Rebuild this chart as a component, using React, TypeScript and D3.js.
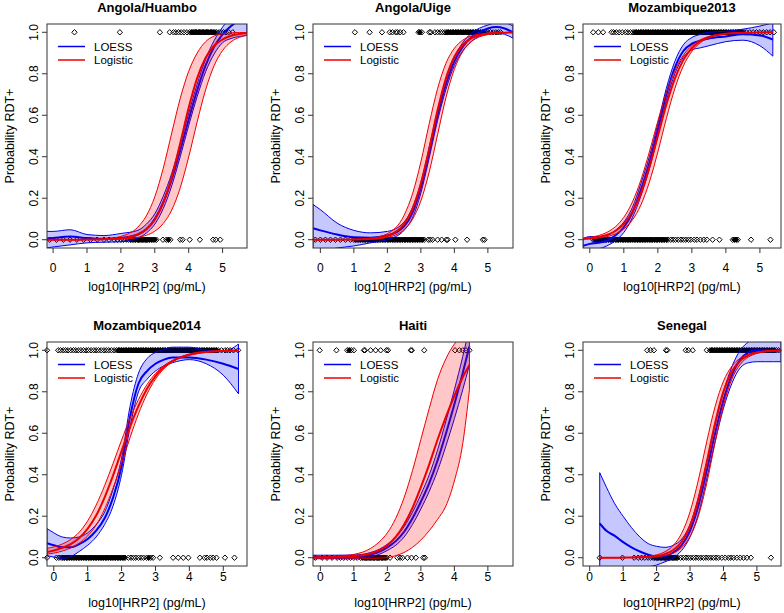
import React from 'react';
import * as d3 from 'd3';

const W = 784;
const H = 613;
const FONT = '"Liberation Sans", Arial, Helvetica, sans-serif';
const Y_DOMAIN = [-0.04, 1.04];
const xTicks = [0, 1, 2, 3, 4, 5];
const yTicks = [0, 0.2, 0.4, 0.6, 0.8, 1.0];
const titles = ['Angola/Huambo', 'Angola/Uige', 'Mozambique2013', 'Mozambique2014', 'Haiti', 'Senegal'];

// ---- Angola/Huambo ----
const huamboDomain = [-0.18, 5.72];
const huamboX = [-0.2, 0, 0.5, 1, 1.5, 2, 2.5, 2.75, 3, 3.25, 3.5, 3.75, 4, 4.25, 4.5, 4.75, 5, 5.25, 5.5, 5.72];
const huamboLogit = [0, 0, 0.0001, 0.0004, 0.0016, 0.0064, 0.026, 0.05, 0.096, 0.177, 0.301, 0.465, 0.636, 0.779, 0.877, 0.935, 0.966, 0.983, 0.992, 0.995];
const huamboLogitHi = [0.0001, 0.0001, 0.0002, 0.001, 0.004, 0.016, 0.061, 0.115, 0.207, 0.345, 0.515, 0.681, 0.812, 0.9, 0.955, 0.982, 0.993, 0.997, 0.999, 0.999];
const huamboLogitLo = [0, 0, 0, 0.0001, 0.0007, 0.0027, 0.0106, 0.021, 0.041, 0.078, 0.143, 0.25, 0.399, 0.568, 0.723, 0.839, 0.912, 0.954, 0.976, 0.986];
const huamboLoess = [0.005, 0.008, 0.015, 0.008, 0.004, 0.008, 0.025, 0.05, 0.1, 0.18, 0.29, 0.43, 0.58, 0.72, 0.84, 0.93, 0.99, 1.03, 1.06, 1.08];
const huamboLoessLo = [-0.04, -0.035, -0.025, -0.015, -0.012, -0.01, 0.008, 0.032, 0.075, 0.15, 0.26, 0.4, 0.55, 0.69, 0.81, 0.895, 0.95, 0.97, 0.98, 0.985];
const huamboLoessHi = [0.04, 0.04, 0.048, 0.025, 0.02, 0.03, 0.045, 0.075, 0.125, 0.21, 0.32, 0.46, 0.61, 0.75, 0.87, 0.96, 1.025, 1.075, 1.12, 1.16];
const huamboPos = [0.63, 1.97, 3.15, 3.44, 3.55, 3.62, 3.7, 3.78, 3.86, 3.95, 4.03, 4.08, 4.12, 4.16, 4.2, 4.24, 4.28, 4.32, 4.36, 4.4, 4.44, 4.48, 4.52, 4.56, 4.6, 4.64, 4.68, 4.72, 4.77, 4.83, 4.9, 4.96, 5.03, 5.1, 5.18, 5.3];
const huamboNeg = [-0.1, 0.1, 0.3, 0.5, 0.7, 0.9, 1.1, 1.3, 1.5, 1.65, 1.8, 1.9, 2.0, 2.08, 2.15, 2.22, 2.28, 2.33, 2.38, 2.43, 2.48, 2.52, 2.56, 2.6, 2.64, 2.68, 2.72, 2.76, 2.8, 2.85, 2.9, 2.95, 3.0, 3.05, 3.24, 3.34, 3.4, 3.46, 3.75, 3.82, 4.03, 4.33, 4.72, 4.8, 4.93];

// ---- Angola/Uige ----
const uigeDomain = [-0.22, 5.75];
const uigeX = [-0.22, 0, 0.5, 1, 1.5, 2, 2.5, 2.75, 3, 3.25, 3.5, 3.75, 4, 4.25, 4.5, 4.75, 5, 5.25, 5.5, 5.75];
const uigeLogit = [0, 0, 0.0002, 0.0009, 0.0041, 0.018, 0.077, 0.149, 0.271, 0.44, 0.625, 0.779, 0.882, 0.94, 0.971, 0.986, 0.993, 0.997, 0.998, 0.999];
const uigeLogitHi = [0, 0.0001, 0.0003, 0.0015, 0.0066, 0.029, 0.118, 0.221, 0.375, 0.56, 0.729, 0.851, 0.923, 0.962, 0.982, 0.991, 0.996, 0.998, 0.999, 1.0];
const uigeLogitLo = [0, 0, 0.0001, 0.0006, 0.0026, 0.0113, 0.049, 0.098, 0.187, 0.327, 0.507, 0.686, 0.822, 0.907, 0.954, 0.978, 0.989, 0.995, 0.997, 0.999];
const uigeLoess = [0.055, 0.045, 0.025, 0.012, 0.01, 0.02, 0.065, 0.13, 0.25, 0.42, 0.6, 0.75, 0.86, 0.93, 0.975, 1.0, 1.018, 1.025, 1.018, 1.0];
const uigeLoessLo = [-0.06, -0.055, -0.04, -0.03, -0.015, 0.0, 0.045, 0.105, 0.225, 0.395, 0.575, 0.725, 0.84, 0.91, 0.955, 0.982, 0.995, 0.997, 0.99, 0.972];
const uigeLoessHi = [0.17, 0.145, 0.08, 0.045, 0.033, 0.04, 0.085, 0.155, 0.275, 0.445, 0.625, 0.775, 0.88, 0.95, 0.995, 1.02, 1.035, 1.045, 1.045, 1.03];
const uigePos = [1.03, 1.47, 1.84, 2.07, 2.15, 2.25, 2.3, 2.38, 2.48, 2.93, 2.97, 3.03, 3.25, 3.3, 3.42, 3.5, 3.58, 3.65, 3.72, 3.78, 3.83, 3.88, 3.93, 3.98, 4.03, 4.08, 4.13, 4.18, 4.23, 4.28, 4.33, 4.38, 4.43, 4.48, 4.53, 4.58, 4.63, 4.68, 4.73, 4.78, 4.83, 4.88, 4.93, 5.0, 5.08, 5.16, 5.24, 5.31, 5.38];
const uigeNeg = [-0.15, 0.0, 0.15, 0.3, 0.45, 0.6, 0.75, 0.9, 1.0, 1.05, 1.1, 1.15, 1.2, 1.25, 1.3, 1.35, 1.4, 1.45, 1.5, 1.55, 1.6, 1.65, 1.7, 1.75, 1.8, 1.85, 1.9, 1.95, 2.0, 2.05, 2.1, 2.15, 2.2, 2.25, 2.3, 2.35, 2.4, 2.45, 2.5, 2.55, 2.6, 2.65, 2.7, 2.75, 2.8, 2.85, 2.9, 2.95, 3.0, 3.05, 3.1, 3.22, 3.28, 3.35, 3.5, 3.62, 3.76, 3.8, 4.03, 4.38, 4.85, 4.9];

// ---- Mozambique2013 ----
const moz13Domain = [-0.2, 5.62];
const moz13X = [-0.2, 0, 0.25, 0.5, 0.75, 1, 1.25, 1.5, 1.75, 2, 2.25, 2.5, 2.75, 3, 3.25, 3.5, 4, 4.5, 5, 5.38];
const moz13Logit = [0.0041, 0.0067, 0.0124, 0.023, 0.042, 0.076, 0.133, 0.223, 0.349, 0.5, 0.651, 0.777, 0.867, 0.924, 0.958, 0.977, 0.993, 0.998, 0.9994, 0.9998];
const moz13LogitHi = [0.0068, 0.0109, 0.0196, 0.0352, 0.0624, 0.108, 0.181, 0.287, 0.423, 0.572, 0.709, 0.816, 0.89, 0.936, 0.964, 0.98, 0.994, 0.998, 0.9994, 0.9998];
const moz13LogitLo = [0.0024, 0.004, 0.0077, 0.0146, 0.0276, 0.0517, 0.0944, 0.167, 0.277, 0.423, 0.584, 0.729, 0.838, 0.908, 0.95, 0.973, 0.9926, 0.998, 0.9994, 0.9998];
const moz13Loess = [-0.03, -0.02, -0.015, -0.005, 0.02, 0.06, 0.13, 0.24, 0.37, 0.53, 0.7, 0.83, 0.91, 0.945, 0.96, 0.97, 0.98, 0.99, 0.985, 0.965];
const moz13LoessLo = [-0.065, -0.055, -0.045, -0.03, -0.005, 0.035, 0.105, 0.21, 0.34, 0.5, 0.67, 0.8, 0.88, 0.915, 0.925, 0.935, 0.955, 0.962, 0.935, 0.885];
const moz13LoessHi = [0.005, 0.015, 0.015, 0.02, 0.045, 0.085, 0.155, 0.27, 0.4, 0.56, 0.73, 0.86, 0.94, 0.975, 0.99, 1.0, 1.005, 1.015, 1.03, 1.045];
const moz13Pos = [0.1, 0.25, 0.39, 0.64, 0.7, 0.78, 0.86, 0.95, 1.05, 1.12, 1.2, 1.27, 1.33, 1.38, 1.43, 1.48, 1.53, 1.58, 1.63, 1.68, 1.73, 1.78, 1.83, 1.88, 1.93, 1.98, 2.03, 2.08, 2.13, 2.18, 2.23, 2.28, 2.33, 2.38, 2.43, 2.48, 2.53, 2.58, 2.63, 2.68, 2.73, 2.78, 2.83, 2.88, 2.93, 2.98, 3.03, 3.08, 3.13, 3.18, 3.23, 3.28, 3.33, 3.38, 3.43, 3.48, 3.53, 3.58, 3.63, 3.68, 3.73, 3.78, 3.83, 3.88, 3.93, 3.98, 4.03, 4.08, 4.13, 4.18, 4.23, 4.28, 4.33, 4.38, 4.43, 4.48, 4.53, 4.6, 4.7, 4.8, 4.9, 5.0, 5.1, 5.2, 5.3, 5.41];
const moz13Neg = [0.1, 0.15, 0.2, 0.25, 0.3, 0.35, 0.4, 0.45, 0.5, 0.55, 0.6, 0.65, 0.7, 0.75, 0.8, 0.85, 0.9, 0.95, 1.0, 1.05, 1.1, 1.15, 1.2, 1.25, 1.3, 1.35, 1.4, 1.45, 1.5, 1.55, 1.6, 1.65, 1.7, 1.75, 1.8, 1.85, 1.9, 1.95, 2.0, 2.05, 2.1, 2.15, 2.2, 2.25, 2.3, 2.38, 2.45, 2.52, 2.6, 2.68, 2.75, 2.82, 2.9, 2.97, 3.07, 3.15, 3.25, 3.35, 3.44, 3.61, 3.81, 4.2, 4.25, 4.3, 4.35, 4.74, 5.31];

// ---- Mozambique2014 ----
const moz14Domain = [-0.2, 5.7];
const moz14X = [-0.2, 0, 0.25, 0.5, 0.75, 1, 1.25, 1.5, 1.75, 2, 2.25, 2.5, 2.75, 3, 3.25, 3.5, 4, 4.5, 5, 5.45];
const moz14Logit = [0.028, 0.035, 0.048, 0.066, 0.095, 0.14, 0.203, 0.291, 0.397, 0.514, 0.63, 0.732, 0.815, 0.876, 0.919, 0.948, 0.979, 0.992, 0.997, 0.9987];
const moz14LogitHi = [0.045, 0.052, 0.066, 0.088, 0.123, 0.178, 0.254, 0.348, 0.455, 0.567, 0.673, 0.763, 0.835, 0.888, 0.926, 0.951, 0.982, 0.994, 0.998, 0.999];
const moz14LogitLo = [0.017, 0.022, 0.032, 0.047, 0.07, 0.105, 0.157, 0.235, 0.336, 0.455, 0.579, 0.694, 0.789, 0.861, 0.911, 0.944, 0.975, 0.99, 0.996, 0.998];
const moz14Loess = [0.07, 0.06, 0.05, 0.05, 0.065, 0.09, 0.13, 0.19, 0.29, 0.44, 0.68, 0.84, 0.9, 0.935, 0.955, 0.965, 0.965, 0.955, 0.935, 0.91];
const moz14LoessLo = [0.01, 0.003, -0.003, 0.005, 0.03, 0.06, 0.1, 0.16, 0.25, 0.4, 0.63, 0.8, 0.86, 0.9, 0.925, 0.94, 0.955, 0.935, 0.88, 0.79];
const moz14LoessHi = [0.14, 0.12, 0.1, 0.095, 0.1, 0.12, 0.16, 0.22, 0.33, 0.48, 0.73, 0.89, 0.96, 0.99, 1.005, 1.015, 1.015, 1.0, 0.995, 1.03];
const moz14Pos = [-0.2, 0.13, 0.2, 0.28, 0.35, 0.42, 0.5, 0.58, 0.65, 0.72, 0.8, 0.88, 0.95, 1.02, 1.1, 1.18, 1.25, 1.32, 1.4, 1.48, 1.55, 1.62, 1.7, 1.78, 1.85, 1.9, 1.95, 2.0, 2.05, 2.1, 2.15, 2.2, 2.25, 2.3, 2.35, 2.4, 2.45, 2.5, 2.55, 2.6, 2.65, 2.7, 2.75, 2.8, 2.85, 2.9, 2.95, 3.0, 3.05, 3.1, 3.15, 3.2, 3.25, 3.3, 3.35, 3.4, 3.45, 3.5, 3.55, 3.6, 3.65, 3.7, 3.75, 3.8, 3.85, 3.9, 3.95, 4.0, 4.05, 4.1, 4.15, 4.2, 4.25, 4.3, 4.35, 4.4, 4.45, 4.5, 4.55, 4.6, 4.65, 4.7, 4.75, 4.8, 4.85, 4.95, 5.05, 5.12, 5.2, 5.3, 5.44];
const moz14Neg = [-0.2, 0.08, 0.15, 0.22, 0.27, 0.32, 0.37, 0.42, 0.47, 0.52, 0.57, 0.62, 0.67, 0.72, 0.77, 0.82, 0.87, 0.92, 0.97, 1.02, 1.07, 1.12, 1.17, 1.22, 1.27, 1.32, 1.37, 1.42, 1.47, 1.52, 1.57, 1.62, 1.67, 1.72, 1.77, 1.82, 1.87, 1.92, 1.97, 2.02, 2.07, 2.1, 2.2, 2.28, 2.35, 2.42, 2.5, 2.58, 2.65, 2.74, 2.8, 2.86, 2.93, 3.13, 3.52, 3.67, 3.82, 3.97, 4.31, 4.45, 4.52, 4.62, 4.7, 4.8, 5.05, 5.33];

// ---- Haiti ----
const haitiDomain = [-0.22, 5.75];
const haitiX = [-0.22, 0, 0.5, 1, 1.5, 1.75, 2, 2.25, 2.5, 2.75, 3, 3.25, 3.5, 3.75, 4, 4.25, 4.45];
const haitiLogit = [0.001, 0.001, 0.003, 0.007, 0.02, 0.035, 0.06, 0.1, 0.16, 0.24, 0.34, 0.45, 0.57, 0.68, 0.78, 0.87, 0.93];
const haitiLogitHi = [0.003, 0.004, 0.008, 0.016, 0.045, 0.075, 0.12, 0.19, 0.29, 0.42, 0.57, 0.72, 0.86, 0.96, 1.03, 1.07, 1.09];
const haitiLogitLo = [-0.002, -0.002, -0.002, -0.002, -0.003, -0.002, 0.0, 0.01, 0.025, 0.05, 0.085, 0.13, 0.185, 0.25, 0.37, 0.55, 0.81];
const haitiLoess = [0.003, 0.003, 0.004, 0.005, 0.015, 0.028, 0.05, 0.08, 0.125, 0.19, 0.27, 0.36, 0.47, 0.6, 0.74, 0.89, 1.02];
const haitiLoessLo = [-0.005, -0.005, -0.004, -0.003, 0.005, 0.016, 0.035, 0.06, 0.1, 0.16, 0.235, 0.32, 0.42, 0.54, 0.67, 0.81, 0.93];
const haitiLoessHi = [0.012, 0.012, 0.012, 0.013, 0.025, 0.04, 0.065, 0.1, 0.15, 0.22, 0.305, 0.4, 0.52, 0.66, 0.81, 0.97, 1.11];
const haitiPos = [-0.02, 0.48, 0.8, 0.86, 0.92, 1.0, 1.3, 1.33, 1.5, 1.65, 1.8, 1.97, 2.02, 2.7, 2.73, 3.1, 4.02, 4.15, 4.25, 4.35, 4.45];
const haitiNeg = [-0.15, 0.05, 0.2, 0.35, 0.5, 0.6, 0.7, 0.8, 0.9, 1.0, 1.1, 1.2, 1.25, 1.3, 1.34, 1.38, 1.42, 1.46, 1.5, 1.54, 1.58, 1.62, 1.66, 1.7, 1.74, 1.78, 1.82, 1.86, 1.9, 1.94, 1.98, 2.08, 2.3, 2.38, 2.45, 2.6, 2.72, 2.85, 3.07, 3.12];

// ---- Senegal ----
const senegalDomain = [-0.2, 5.72];
const senegalX = [0.3, 0.5, 0.75, 1, 1.25, 1.5, 1.75, 2, 2.25, 2.5, 2.75, 3, 3.25, 3.5, 3.75, 4, 4.25, 4.5, 4.75, 5, 5.25, 5.5, 5.72];
const senegalLogit = [0, 0.0001, 0.0002, 0.0004, 0.0008, 0.0017, 0.0037, 0.0081, 0.0175, 0.037, 0.077, 0.154, 0.283, 0.461, 0.65, 0.802, 0.898, 0.95, 0.976, 0.989, 0.995, 0.998, 0.9987];
const senegalLogitHi = [0.0001, 0.0002, 0.0003, 0.0007, 0.0015, 0.0031, 0.0066, 0.0139, 0.029, 0.0595, 0.118, 0.221, 0.375, 0.56, 0.729, 0.851, 0.923, 0.962, 0.982, 0.991, 0.996, 0.998, 0.999];
const senegalLogitLo = [0, 0, 0.0001, 0.0002, 0.0004, 0.0009, 0.0021, 0.0046, 0.0102, 0.0223, 0.0483, 0.1016, 0.201, 0.359, 0.555, 0.735, 0.861, 0.932, 0.968, 0.985, 0.993, 0.997, 0.998];
const senegalLoess = [0.165, 0.13, 0.105, 0.075, 0.05, 0.03, 0.015, 0.005, 0.008, 0.025, 0.06, 0.13, 0.25, 0.42, 0.6, 0.76, 0.88, 0.955, 0.99, 1.0, 1.0, 1.0, 1.0];
const senegalLoessLo = [-0.09, -0.09, -0.08, -0.07, -0.06, -0.05, -0.045, -0.035, -0.02, 0.0, 0.035, 0.1, 0.21, 0.38, 0.56, 0.72, 0.84, 0.915, 0.94, 0.945, 0.945, 0.945, 0.945];
const senegalLoessHi = [0.41, 0.34, 0.26, 0.2, 0.145, 0.1, 0.068, 0.055, 0.05, 0.06, 0.09, 0.16, 0.29, 0.46, 0.64, 0.8, 0.92, 1.0, 1.04, 1.055, 1.055, 1.055, 1.055];
const senegalPos = [1.72, 1.82, 1.92, 2.28, 2.32, 2.87, 2.95, 3.08, 3.5, 3.6, 3.64, 3.68, 3.73, 3.78, 3.83, 3.88, 3.93, 3.98, 4.03, 4.08, 4.13, 4.18, 4.23, 4.28, 4.33, 4.38, 4.43, 4.48, 4.53, 4.58, 4.63, 4.68, 4.73, 4.78, 4.83, 4.88, 4.93, 4.98, 5.03, 5.08, 5.13, 5.18, 5.23, 5.28, 5.33, 5.38, 5.43, 5.48, 5.53, 5.58, 5.65];
const senegalNeg = [0.3, 0.98, 1.33, 1.45, 1.55, 1.65, 1.75, 1.82, 1.9, 1.95, 1.99, 2.03, 2.07, 2.11, 2.15, 2.19, 2.23, 2.27, 2.31, 2.35, 2.39, 2.43, 2.47, 2.51, 2.55, 2.59, 2.63, 2.72, 2.8, 2.88, 2.95, 3.02, 3.1, 3.18, 3.25, 3.32, 3.4, 3.48, 3.55, 3.62, 3.7, 3.78, 3.85, 3.95, 4.05, 4.15, 4.22, 4.3, 4.4, 4.5, 4.6, 4.7, 4.82, 5.42];

const panels = [
  { domain: huamboDomain, xs: huamboX, logit: huamboLogit, logitLo: huamboLogitLo, logitHi: huamboLogitHi, loess: huamboLoess, loessLo: huamboLoessLo, loessHi: huamboLoessHi, pos: huamboPos, neg: huamboNeg },
  { domain: uigeDomain, xs: uigeX, logit: uigeLogit, logitLo: uigeLogitLo, logitHi: uigeLogitHi, loess: uigeLoess, loessLo: uigeLoessLo, loessHi: uigeLoessHi, pos: uigePos, neg: uigeNeg },
  { domain: moz13Domain, xs: moz13X, logit: moz13Logit, logitLo: moz13LogitLo, logitHi: moz13LogitHi, loess: moz13Loess, loessLo: moz13LoessLo, loessHi: moz13LoessHi, pos: moz13Pos, neg: moz13Neg },
  { domain: moz14Domain, xs: moz14X, logit: moz14Logit, logitLo: moz14LogitLo, logitHi: moz14LogitHi, loess: moz14Loess, loessLo: moz14LoessLo, loessHi: moz14LoessHi, pos: moz14Pos, neg: moz14Neg },
  { domain: haitiDomain, xs: haitiX, logit: haitiLogit, logitLo: haitiLogitLo, logitHi: haitiLogitHi, loess: haitiLoess, loessLo: haitiLoessLo, loessHi: haitiLoessHi, pos: haitiPos, neg: haitiNeg },
  { domain: senegalDomain, xs: senegalX, logit: senegalLogit, logitLo: senegalLogitLo, logitHi: senegalLogitHi, loess: senegalLoess, loessLo: senegalLoessLo, loessHi: senegalLoessHi, pos: senegalPos, neg: senegalNeg },
];

// layout of the 2x3 grid
const colLeft = [47, 313, 583];
const colRight = [247, 513, 781];
const rowTop = [24, 342];
const rowBottom = [248, 566];
const tickLabelDy = [23.5, 14.5];
const axisTitleDy = [43, 40.5];

const BLUE = '#0000ee';
const RED = '#ee0000';
const R = 2.7; // half diagonal of a point marker, px

// a point whose neighbours on both sides sit closer than this (log10 units)
// is buried in an overplotted run, which R renders as a solid black band
const CROWD = 0.065;

function crowded(vals: number[], k: number) {
  const v = vals[k];
  const prev = k > 0 ? v - vals[k - 1] : 99;
  const next = k < vals.length - 1 ? vals[k + 1] - v : 99;
  return prev < CROWD && next < CROWD;
}

const diamondAt = (cx: number, cy: number) =>
  `M${cx},${cy - R}L${cx + R},${cy}L${cx},${cy + R}L${cx - R},${cy}Z`;

function Panel({ p, i }: { p: any; i: number }) {
  const col = i % 3;
  const row = Math.floor(i / 3);
  const left = colLeft[col];
  const right = colRight[col];
  const top = rowTop[row];
  const bottom = rowBottom[row];
  const x = d3.scaleLinear().domain(p.domain).range([left, right]);
  const y = d3.scaleLinear().domain(Y_DOMAIN).range([bottom, top]);

  const rows = p.xs.map((v: number, k: number) => ({
    x: v,
    lo: p.loessLo[k], mid: p.loess[k], hi: p.loessHi[k],
    glo: p.logitLo[k], gmid: p.logit[k], ghi: p.logitHi[k],
  }));

  const band = (lo: string, hi: string) =>
    d3.area<any>().x(d => x(d.x)).y0(d => y(d[lo])).y1(d => y(d[hi])).curve(d3.curveMonotoneX)(rows) || '';
  const line = (key: string) =>
    d3.line<any>().x(d => x(d.x)).y(d => y(d[key])).curve(d3.curveMonotoneX)(rows) || '';

  const clipId = `plotclip${i}`;
  const cy = (top + bottom) / 2;

  // hollow markers for sparse observations, one filled path for crowded runs
  const sparse: string[] = [];
  const dense: string[] = [];
  ([[p.pos, 1], [p.neg, 0]] as [number[], number][]).forEach(([vals, yv]) => {
    vals.forEach((v, k) => {
      const d = diamondAt(x(v), y(yv));
      (crowded(vals, k) ? dense : sparse).push(d);
    });
  });

  return (
    <g>
      <defs>
        <clipPath id={clipId}>
          <rect x={left} y={top} width={right - left} height={bottom - top} />
        </clipPath>
      </defs>

      {/* observations */}
      <path d={sparse.join('')} fill="none" stroke="#000" strokeWidth={1} />
      <path d={dense.join('')} fill="#000" stroke="#000" strokeWidth={1} />

      <g clipPath={`url(#${clipId})`}>
        <path d={band('lo', 'hi')} fill="rgba(0,0,255,0.22)" stroke={BLUE} strokeWidth={1} />
        <path d={line('mid')} fill="none" stroke={BLUE} strokeWidth={2} />
        <path d={band('glo', 'ghi')} fill="rgba(255,0,0,0.22)" stroke={RED} strokeWidth={1} />
        <path d={line('gmid')} fill="none" stroke={RED} strokeWidth={2} />
      </g>

      <rect x={left} y={top} width={right - left} height={bottom - top} fill="none" stroke="#333" strokeWidth={1} />

      {/* x axis */}
      {xTicks.map(t => (
        <g key={'xt' + t}>
          <line x1={x(t)} x2={x(t)} y1={bottom} y2={bottom + 5} stroke="#333" />
          <text x={x(t)} y={bottom + tickLabelDy[row]} textAnchor="middle" fontSize={12} fontFamily={FONT}>{t}</text>
        </g>
      ))}
      <text x={(left + right) / 2} y={bottom + axisTitleDy[row]} textAnchor="middle" fontSize={12.5} fontFamily={FONT}>
        log10[HRP2] (pg/mL)
      </text>

      {/* y axis */}
      {yTicks.map(t => (
        <g key={'yt' + t}>
          <line x1={left - 5} x2={left} y1={y(t)} y2={y(t)} stroke="#333" />
          <text transform={`translate(${left - 9.5},${y(t)}) rotate(-90)`} textAnchor="middle" fontSize={12} fontFamily={FONT}>
            {t.toFixed(1)}
          </text>
        </g>
      ))}
      <text transform={`translate(${left - 33},${cy}) rotate(-90)`} textAnchor="middle" fontSize={12.5} fontFamily={FONT}>
        Probability RDT+
      </text>

      {/* title */}
      <text x={(left + right) / 2} y={top - 12.5} textAnchor="middle" fontSize={13} fontWeight="bold" fontFamily={FONT}>
        {titles[i]}
      </text>

      {/* legend */}
      <line x1={left + 11} x2={left + 38} y1={top + 22.5} y2={top + 22.5} stroke={BLUE} strokeWidth={1.5} />
      <text x={left + 47} y={top + 26.5} fontSize={11.5} fontFamily={FONT}>LOESS</text>
      <line x1={left + 11} x2={left + 38} y1={top + 36} y2={top + 36} stroke={RED} strokeWidth={1.5} />
      <text x={left + 47} y={top + 40} fontSize={11.5} fontFamily={FONT}>Logistic</text>
    </g>
  );
}

export default function App() {
  return (
    <svg width={W} height={H} style={{ position: 'absolute', left: 0, top: 0, display: 'block' }}>
      <rect width={W} height={H} fill="#fff" />
      {panels.map((p, i) => (
        <Panel key={i} p={p} i={i} />
      ))}
    </svg>
  );
}
